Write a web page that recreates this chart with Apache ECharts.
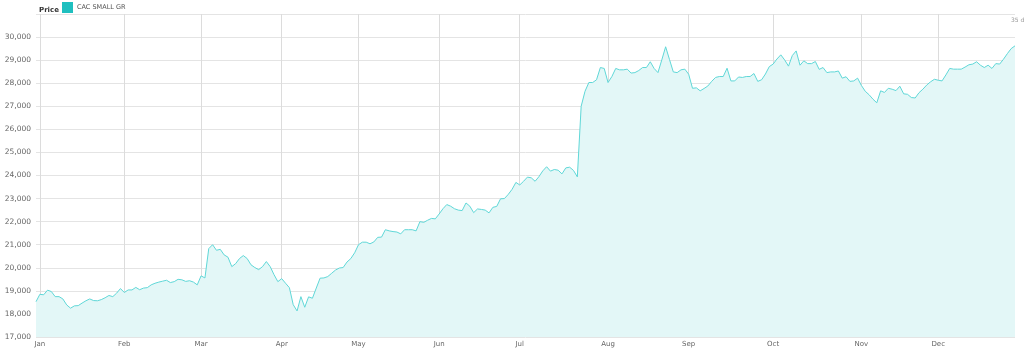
<!DOCTYPE html>
<html>
<head>
<meta charset="utf-8">
<script src="https://cdn.jsdelivr.net/npm/echarts@6/dist/echarts.min.js"></script>
<style>
html,body{margin:0;padding:0;background:#fff;}
#chart{width:1024px;height:352px;}
</style>
</head>
<body>
<div id="chart"></div>
<script>
// Month labels and trading-day closes (one value per trading day)
const monthNames = ['Jan','Feb','Mar','Apr','May','Jun','Jul','Aug','Sep','Oct','Nov','Dec'];
const seriesName = 'CAC SMALL GR';
const prevYearClose = [18530];
const jan = [18850,18830,19030,18970,18750,18750,18650,18390,18250,18350,18360,18470,18570,18650,18580,18570,18620,18700,18800,18750,18900,19100];
const feb = [18930,19040,19040,19150,19050,19120,19140,19260,19330,19380,19420,19460,19360,19400,19500,19480,19410,19440,19380,19260];
const mar = [19650,19560,20830,21000,20760,20800,20560,20460,20050,20180,20400,20530,20400,20130,20010,19920,20050,20270,20050,19700,19400];
const apr = [19530,19330,19140,18400,18130,18750,18290,18740,18680,19120,19550,19560,19620,19760,19900,19990,20010,20250,20400,20650];
const may = [21000,21110,21110,21040,21120,21320,21330,21650,21600,21570,21550,21470,21650,21650,21650,21600,22000,21970,22060,22140,22120];
const jun = [22330,22560,22740,22670,22560,22500,22480,22810,22670,22390,22550,22530,22500,22380,22620,22660,22990,23000,23180,23400,23700];
const jul = [23590,23750,23930,23900,23750,23950,24200,24380,24190,24260,24230,24070,24330,24360,24220,23940,27000,27650,28030,28030,28150,28680,28640];
const aug = [28030,28290,28640,28580,28580,28610,28440,28460,28550,28680,28680,28930,28640,28460,29010,29580,29030,28490,28460,28580,28610];
const sep = [28390,27780,27800,27670,27770,27880,28080,28250,28290,28290,28650,28100,28100,28270,28250,28290,28290,28420,28080,28150,28400,28720];
const oct = [28830,29050,29230,29010,28740,29200,29400,28780,28970,28850,28850,28940,28600,28680,28460,28490,28490,28530,28220,28280,28080,28100,28220];
const nov = [27900,27650,27500,27310,27150,27670,27600,27780,27740,27680,27870,27540,27520,27380,27360,27590,27740,27920,28060,28170];
const dec = [28130,28100,28360,28640,28610,28610,28610,28700,28800,28830,28930,28780,28680,28780,28640,28850,28830,29040,29280,29500,29620];
const yTicks = {min:17000, max:31000, interval:1000};

const monthly = [jan,feb,mar,apr,may,jun,jul,aug,sep,oct,nov,dec];
const categories = ['Dec 31'];
const values = prevYearClose.slice();
const monthStart = new Set();
monthly.forEach((arr, m) => {
  arr.forEach((v, k) => {
    if (k === 0) monthStart.add(categories.length);
    categories.push(monthNames[m] + ' ' + (k + 1));
    values.push(v);
  });
});
const isStart = (idx) => monthStart.has(idx);

const chart = echarts.init(document.getElementById('chart'), null, {renderer:'canvas'});
const font = 'DejaVu Sans, Verdana, sans-serif';
chart.setOption({
  animation:false,
  title:{text:'Price', left:34, top:2, textStyle:{fontSize:7, fontWeight:'bold', color:'#333', fontFamily:font}},
  legend:{left:62, top:2, padding:0, itemWidth:11, itemHeight:11, icon:'rect', itemGap:4,
    textStyle:{fontSize:6.5, color:'#555', fontFamily:font, padding:[0,0,0,-1]}, data:[seriesName]},
  graphic:[{type:'text', left:1011, top:17, style:{text:'35 d', fontSize:6, fill:'#999', fontFamily:font}}],
  grid:{left:36, right:9, top:14, bottom:15, containLabel:false},
  xAxis:{type:'category', data:categories, boundaryGap:false,
    axisLine:{show:false}, axisTick:{show:false},
    axisLabel:{interval:(i)=>isStart(i), formatter:(v)=>v.split(' ')[0], fontSize:7, color:'#666', fontFamily:font, margin:4, showMinLabel:true},
    splitLine:{show:true, interval:(i)=>isStart(i), lineStyle:{color:'#dcdcdc', width:1}}},
  yAxis:{type:'value', min:yTicks.min, max:yTicks.max, interval:yTicks.interval,
    axisLine:{show:false}, axisTick:{show:false},
    axisLabel:{fontSize:7.5, color:'#666', fontFamily:font, margin:5,
      formatter:(v)=> v === yTicks.max ? '' : v.toLocaleString('en-US')},
    splitLine:{lineStyle:{color:'#e4e4e4', width:1}}},
  series:[{name:seriesName, type:'line', data:values, symbol:'none', smooth:false,
    itemStyle:{color:'#1fbfbf'},
    lineStyle:{color:'#5fd7d7', width:1},
    areaStyle:{color:'#e3f7f7', opacity:1}}]
});
</script>
</body>
</html>
